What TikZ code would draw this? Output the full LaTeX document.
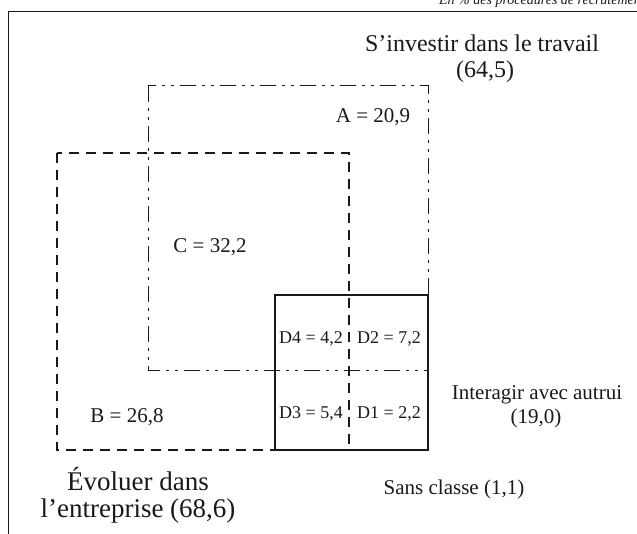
\documentclass[tikz,border=0pt]{standalone}
\usepackage{fontspec}
\setmainfont{Liberation Serif}
\begin{document}
\begin{tikzpicture}[x=1bp,y=-1bp,
  ink/.style={draw=black!90},
  frameline/.style={ink, line width=1.1bp},
  boxA/.style={ink, line width=1bp, dash pattern=on 16bp off 6bp on 3bp off 6bp on 3bp off 6bp},
  boxB/.style={ink, line width=2.8bp, dash pattern=on 10bp off 7bp},
  boxD/.style={ink, line width=2.8bp},
  lab/.style={anchor=base, inner sep=0pt, text=black!90, font=\fontsize{21bp}{24bp}\selectfont},
  smalllab/.style={lab, font=\fontsize{18bp}{20bp}\selectfont},
  title/.style={lab, font=\fontsize{24bp}{27bp}\selectfont},
  bigtitle/.style={lab, font=\fontsize{27bp}{30bp}\selectfont},
]
\useasboundingbox (0,0) rectangle (637,534);
% header (cut by the page edge, as in the reference)
\node[anchor=base east, inner sep=0pt, text=black!90, font=\fontsize{14bp}{16bp}\selectfont\itshape] (hdr) at (645,5) {En \% des procédures de recrutement};
% frame
\coordinate (fTL) at (8.5,11.5);
\coordinate (fTR) at (645,11.5);
\coordinate (fBL) at (8.5,545);
\draw[frameline] (fBL) -- (fTL) -- (fTR);
% rectangle A (dash-dot)
\coordinate (aTL) at (148,86);
\coordinate (aBR) at (428,370);
\draw[boxA] (aTL) rectangle (aBR);
% rectangle B (dashed)
\coordinate (bTL) at (57,153);
\coordinate (bBR) at (349,450);
\draw[boxB] (bTL) rectangle (bBR);
% rectangle D (solid)
\coordinate (dTL) at (275,295);
\coordinate (dBR) at (428,450);
\draw[boxD] (dTL) rectangle (dBR);
% labels
\node[title] (s1) at (482,52) {S’investir dans le travail};
\node[title] (s2) at (485,78) {(64,5)};
\node[lab] (A) at (373,123) {A = 20,9};
\node[lab] (C) at (210,253) {C = 32,2};
\node[smalllab] (D4) at (311,343) {D4 = 4,2};
\node[smalllab] (D2) at (389,343) {D2 = 7,2};
\node[smalllab] (D3) at (311,418) {D3 = 5,4};
\node[smalllab] (D1) at (389,418) {D1 = 2,2};
\node[lab] (B) at (127,422) {B = 26,8};
\node[lab] (i1) at (537,399) {Interagir avec autrui};
\node[lab] (i2) at (536,423) {(19,0)};
\node[lab] (sc) at (454,494) {Sans classe (1,1)};
\node[bigtitle] (e1) at (138,490) {Évoluer dans};
\node[bigtitle] (e2) at (138,517) {l’entreprise (68,6)};
\end{tikzpicture}
\end{document}
